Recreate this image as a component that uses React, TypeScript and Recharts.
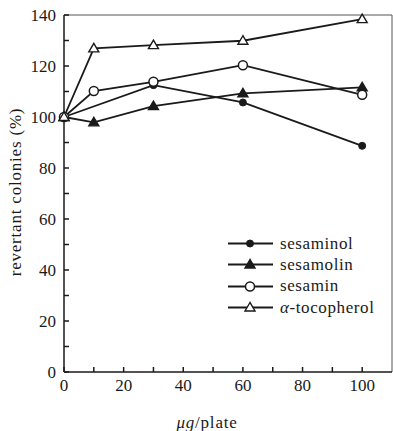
import { Line, LineChart, ReferenceLine, XAxis, YAxis } from "recharts";

const doses = [0, 10, 30, 60, 100];
const sesaminol = [100, null, 112.5, 105.7, 88.7];
const sesamolin = [100, 97.9, 104.3, 109.3, 111.6];
const sesamin = [100, 110.2, 113.8, 120.3, 108.7];
const tocopherol = [100, 126.9, 128.2, 129.9, 138.4];

const xTicks = [0, 10, 20, 30, 40, 50, 60, 70, 80, 90, 100];
const yTicks = [0, 10, 20, 30, 40, 50, 60, 70, 80, 90, 100, 110, 120, 130, 140];

const data = doses.map((dose, i) => ({
  dose,
  sesaminol: sesaminol[i],
  sesamolin: sesamolin[i],
  sesamin: sesamin[i],
  tocopherol: tocopherol[i],
}));

type Shape = "dot" | "tri" | "circle" | "openTri";

const series: Array<{ key: string; label: string; shape: Shape }> = [
  { key: "sesaminol", label: "sesaminol", shape: "dot" },
  { key: "sesamolin", label: "sesamolin", shape: "tri" },
  { key: "sesamin", label: "sesamin", shape: "circle" },
  { key: "tocopherol", label: "α-tocopherol", shape: "openTri" },
];

const font = "Liberation Serif";
const ink = "#1a1a1a";

function Marker({ cx, cy, shape }: { cx: number; cy: number; shape: Shape }) {
  if (cx == null || cy == null) return null;
  if (shape === "dot") return <circle cx={cx} cy={cy} r={3.5} fill={ink} stroke={ink} />;
  if (shape === "circle") return <circle cx={cx} cy={cy} r={4.5} fill="#fff" stroke={ink} strokeWidth={1.5} />;
  const pts = `${cx},${cy - 5} ${cx - 5},${cy + 3.5} ${cx + 5},${cy + 3.5}`;
  return <polygon points={pts} fill={shape === "tri" ? ink : "#fff"} stroke={ink} strokeWidth={1.4} />;
}

function LegendBox() {
  return (
    <div
      style={{
        position: "absolute",
        left: 226,
        top: 233,
        fontFamily: font,
        fontSize: 17,
        letterSpacing: 0.6,
        color: ink,
      }}
    >
      {series.map((s) => (
        <div key={s.key} style={{ display: "flex", alignItems: "center", height: 21.3 }}>
          <svg width={50} height={21}>
            <line x1={2} y1={10.5} x2={47} y2={10.5} stroke={ink} strokeWidth={1.8} />
            <Marker cx={24} cy={10.5} shape={s.shape} />
          </svg>
          <span style={{ marginLeft: 4 }}>
            {s.key === "tocopherol" ? (
              <>
                <i>α</i>-tocopherol
              </>
            ) : (
              s.label
            )}
          </span>
        </div>
      ))}
    </div>
  );
}

export default function App() {
  const tickStyle = { fill: ink, fontSize: 17, fontFamily: font };
  return (
    <div style={{ position: "absolute", left: 0, top: 0, width: 393, height: 431, background: "#fff" }}>
      <LineChart width={393} height={431} data={data} margin={{ top: 15, right: 1, bottom: 0, left: 0 }}>
        <XAxis
          dataKey="dose"
          type="number"
          domain={[0, 110]}
          ticks={xTicks}
          interval={0}
          tickSize={-5}
          tickMargin={12}
          tickFormatter={(v: number) => (v % 20 === 0 ? String(v) : "")}
          tick={tickStyle}
          stroke={ink}
          strokeWidth={1.5}
          height={59}
          label={() => (
            <text
              x={207}
              y={428}
              textAnchor="middle"
              fontFamily={font}
              fontSize={17}
              letterSpacing={0.8}
              fill={ink}
            >
              <tspan fontStyle="italic">μg</tspan>/plate
            </text>
          )}
        />
        <YAxis
          type="number"
          domain={[0, 140]}
          ticks={yTicks}
          interval={0}
          width={64}
          tickSize={-5}
          tickMargin={13}
          tickFormatter={(v: number) => (v % 20 === 0 ? String(v) : "")}
          tick={tickStyle}
          stroke={ink}
          strokeWidth={1.5}
          label={() => (
            <text
              transform="translate(21,192) rotate(-90)"
              textAnchor="middle"
              fontFamily={font}
              fontSize={17}
              letterSpacing={0.8}
              fill={ink}
            >
              revertant colonies (%)
            </text>
          )}
        />
        <ReferenceLine y={140} stroke="#555" strokeWidth={1} />
        <ReferenceLine x={110} stroke="#555" strokeWidth={1} />
        {series.map((s) => (
          <Line
            key={s.key}
            dataKey={s.key}
            stroke={ink}
            strokeWidth={1.8}
            connectNulls
            isAnimationActive={false}
            dot={(p: any) => <Marker key={`${s.key}-${p.index}`} cx={p.cx} cy={p.cy} shape={s.shape} />}
            activeDot={false}
          />
        ))}
      </LineChart>
      <LegendBox />
    </div>
  );
}
